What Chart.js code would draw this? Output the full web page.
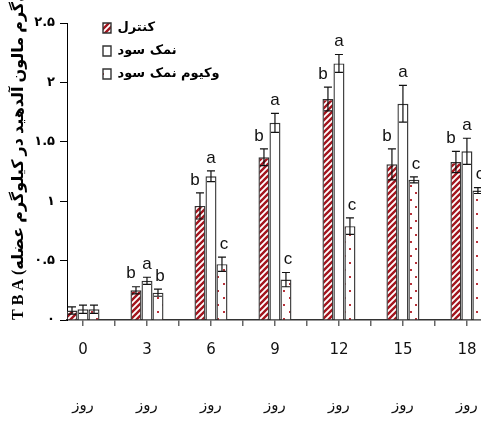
<!DOCTYPE html>
<html><head><meta charset="utf-8">
<script src="https://cdn.jsdelivr.net/npm/chart.js@4.4.1/dist/chart.umd.min.js"></script>
<style>html,body{margin:0;padding:0;background:#fff;overflow:hidden}canvas{display:block}</style>
</head><body>
<canvas id="c" width="481" height="421"></canvas>
<script>
// ---- data ----
const days = [0, 3, 6, 9, 12, 15, 18];
const dayLabels = ['0', '3', '6', '9', '12', '15', '18'];
const dayWord = 'روز';
const seriesNames = ['کنترل', 'نمک سود', 'وکیوم نمک سود'];
const control = [0.08, 0.25, 0.96, 1.37, 1.86, 1.31, 1.33];
const salted  = [0.09, 0.33, 1.21, 1.66, 2.16, 1.82, 1.42];
const vacuum  = [0.09, 0.23, 0.47, 0.34, 0.79, 1.18, 1.09];
const controlErr = [0.03, 0.03, 0.11, 0.07, 0.10, 0.13, 0.09];
const saltedErr  = [0.035, 0.03, 0.045, 0.08, 0.075, 0.155, 0.11];
const vacuumErr  = [0.035, 0.03, 0.06, 0.06, 0.07, 0.025, 0.025];
const controlLetters = ['', 'b', 'b', 'b', 'b', 'b', 'b'];
const saltedLetters  = ['', 'a', 'a', 'a', 'a', 'a', 'a'];
const vacuumLetters  = ['', 'b', 'c', 'c', 'c', 'c', 'c'];
const yTicks = [0, 0.5, 1, 1.5, 2, 2.5];
const yTickLabels = ['۰', '۰.۵', '۱', '۱.۵', '۲', '۲.۵'];
const yTitle = 'T B A (میلی‌گرم مالون آلدهید در کیلوگرم عضله)';

// ---- styles ----
const RED = '#a3161f';
function stripePattern() {
  const c = document.createElement('canvas'); c.width = 6; c.height = 6;
  const g = c.getContext('2d');
  g.fillStyle = '#fff'; g.fillRect(0, 0, 6, 6);
  g.strokeStyle = RED; g.lineWidth = 2.4; g.lineCap = 'square';
  g.beginPath();
  g.moveTo(-2, 2); g.lineTo(2, -2);
  g.moveTo(-1, 7); g.lineTo(7, -1);
  g.moveTo(4, 8); g.lineTo(8, 4);
  g.stroke();
  return g.createPattern(c, 'repeat');
}
function dotPattern() {
  const c = document.createElement('canvas'); c.width = 11; c.height = 14;
  const g = c.getContext('2d');
  g.fillStyle = '#fff'; g.fillRect(0, 0, 11, 14);
  g.fillStyle = '#b8323a';
  g.fillRect(3, 3, 2, 2);
  g.fillRect(8, 10, 2, 2);
  return g.createPattern(c, 'repeat');
}
const xMin = -0.75, xMax = 18.66;
const pts = arr => days.map((d, i) => ({ x: d, y: arr[i] }));
const errs = [controlErr, saltedErr, vacuumErr];
const letters = [controlLetters, saltedLetters, vacuumLetters];
const letterShift = [-5, 0, 2];

const errorPlugin = {
  id: 'errorBars',
  afterDatasetsDraw(chart) {
    const ctx = chart.ctx, ys = chart.scales.y;
    ctx.save();
    chart.data.datasets.forEach((ds, di) => {
      const meta = chart.getDatasetMeta(di);
      meta.data.forEach((el, i) => {
        const v = ds.data[i].y, e = errs[di][i];
        const top = ys.getPixelForValue(v + e), bot = ys.getPixelForValue(v - e);
        ctx.strokeStyle = '#111'; ctx.lineWidth = 1.2;
        ctx.beginPath();
        ctx.moveTo(el.x, top); ctx.lineTo(el.x, bot);
        ctx.moveTo(el.x - 4, top); ctx.lineTo(el.x + 4, top);
        ctx.moveTo(el.x - 4, bot); ctx.lineTo(el.x + 4, bot);
        ctx.stroke();
        const L = letters[di][i];
        if (L) {
          ctx.fillStyle = '#111';
          ctx.font = "17px 'Liberation Sans Narrow', 'Arial Narrow', 'Liberation Sans', sans-serif";
          ctx.textAlign = 'center'; ctx.textBaseline = 'middle';
          ctx.fillText(L, el.x + letterShift[di], top - 13);
        }
      });
    });
    ctx.restore();
  }
};
const legendPlace = {
  id: 'legendPlace',
  afterLayout(chart) {
    const l = chart.legend;
    const w = l.width, h = l.height;
    l.left = 93; l.top = 11.5; l.right = l.left + w; l.bottom = l.top + h;
  }
};

new Chart(document.getElementById('c'), {
  type: 'bar',
  data: {
    datasets: [
      { label: seriesNames[0], data: pts(control), backgroundColor: stripePattern() },
      { label: seriesNames[1], data: pts(salted), backgroundColor: '#ffffff' },
      { label: seriesNames[2], data: pts(vacuum), backgroundColor: dotPattern() }
    ].map(d => Object.assign(d, { borderColor: '#333', borderWidth: 1.4, barPercentage: 1, categoryPercentage: 33 / 32 }))
  },
  options: {
    responsive: false, animation: false, devicePixelRatio: 1,
    layout: { padding: { top: 23, left: 0, right: 0, bottom: 0 } },
    plugins: {
      tooltip: { enabled: false },
      legend: {
        position: 'chartArea', align: 'start',
        labels: {
          boxWidth: 8, boxHeight: 10, padding: 10, color: '#000',
          font: { family: "'DejaVu Sans', sans-serif", size: 13, weight: 'bold' }
        }
      }
    },
    scales: {
      x: {
        type: 'linear', min: xMin, max: xMax, offset: false, weight: 0,
        afterBuildTicks: s => { const t = []; for (let v = xMin; v <= xMax; v += 1.5) t.push({ value: v }); s.ticks = t; },
        afterFit: s => { s.height = 6; },
        ticks: { display: false },
        grid: { drawOnChartArea: false, drawTicks: true, tickLength: 6, color: '#666', lineWidth: 1.5 },
        border: { color: '#333', width: 1.5 }
      },
      x2: {
        type: 'linear', position: 'bottom', min: xMin, max: xMax, offset: false, weight: 1,
        afterBuildTicks: s => { s.ticks = days.map(v => ({ value: v })); },
        afterFit: s => { s.height = 95; },
        ticks: {
          autoSkip: false, maxRotation: 0, padding: 2, color: '#111',
          callback: v => [dayLabels[days.indexOf(v)], '', dayWord],
          font: { family: "'Liberation Sans Narrow', 'Arial Narrow', 'DejaVu Sans', sans-serif", size: 15, lineHeight: 28 / 15 }
        },
        grid: { display: false }, border: { display: false }
      },
      y: {
        min: 0, max: 2.5,
        afterBuildTicks: s => { s.ticks = yTicks.map(v => ({ value: v })); },
        afterFit: s => { s.width = 67; },
        ticks: {
          padding: 5, color: '#000',
          callback: v => yTickLabels[yTicks.indexOf(v)],
          font: { family: "'DejaVu Sans', sans-serif", size: 13, weight: 'bold' }
        },
        grid: { drawOnChartArea: false, tickLength: 7, color: '#000' },
        border: { color: '#000', width: 1 },
        title: {
          display: true, text: yTitle, align: 'start', color: '#000',
          padding: { top: 9, bottom: 0 },
          font: { family: "'Liberation Serif', 'DejaVu Sans', serif", size: 16, weight: 'bold' }
        }
      }
    }
  },
  plugins: [errorPlugin, legendPlace]
});
</script>
</body></html>
